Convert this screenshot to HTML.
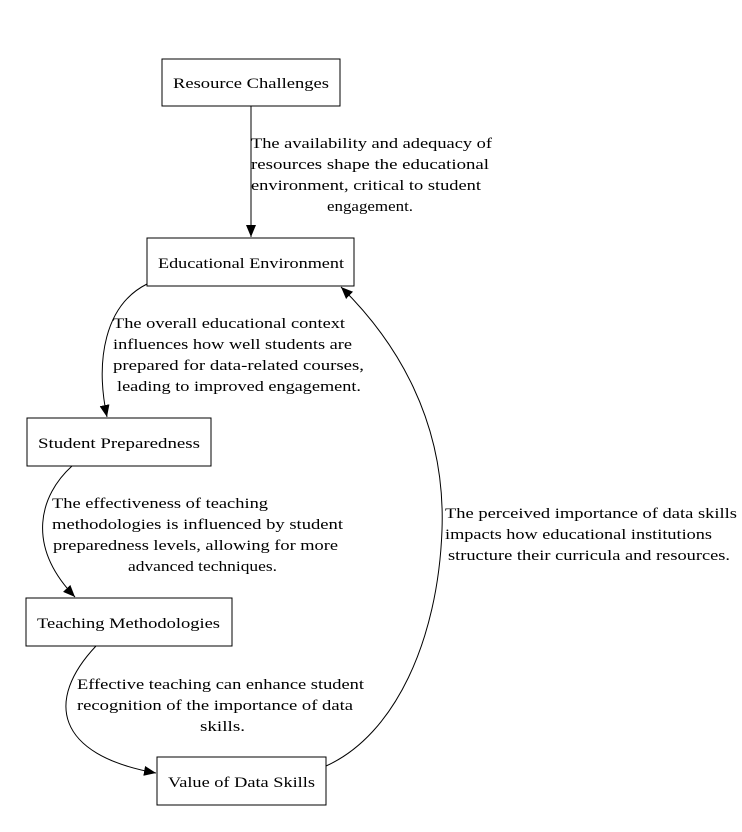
<!DOCTYPE html>
<html><head><meta charset="utf-8"><style>html,body{margin:0;padding:0;background:#fff}svg{display:block}text{font-family:"Liberation Serif",serif;font-size:15px;fill:#000}</style></head>
<body>
<svg width="742" height="832" viewBox="0 0 742 832" xmlns="http://www.w3.org/2000/svg">
<defs><marker id="a" markerWidth="12" markerHeight="10" refX="12" refY="5" orient="auto" markerUnits="userSpaceOnUse"><path d="M0,0 L12,5 L0,10 Z" fill="#000"/></marker></defs>
<g fill="none" stroke="#000" stroke-width="1">
<rect x="162" y="59" width="178" height="47"/>
<rect x="147" y="238" width="207" height="48"/>
<rect x="27" y="418" width="184" height="48"/>
<rect x="26" y="598" width="206" height="48"/>
<rect x="157" y="757" width="169" height="48"/>
<path d="M251,106 L251,237" marker-end="url(#a)"/>
<path d="M147,284 C105,305 95,360 107,417" marker-end="url(#a)"/>
<path d="M72,466 C40,495 25,545 75,597" marker-end="url(#a)"/>
<path d="M96,646 C45,700 55,755 156,773" marker-end="url(#a)"/>
<path d="M326,766 C395,735 438,640 442,530 C446,420 395,340 341,287" marker-end="url(#a)"/>
</g>
<g>
<text x="173" y="88" textLength="156" lengthAdjust="spacingAndGlyphs">Resource Challenges</text>
<text x="158" y="268" textLength="186" lengthAdjust="spacingAndGlyphs">Educational Environment</text>
<text x="38" y="448" textLength="162" lengthAdjust="spacingAndGlyphs">Student Preparedness</text>
<text x="37" y="628" textLength="183" lengthAdjust="spacingAndGlyphs">Teaching Methodologies</text>
<text x="168" y="787" textLength="147" lengthAdjust="spacingAndGlyphs">Value of Data Skills</text>
<text x="251" y="148" textLength="241" lengthAdjust="spacingAndGlyphs">The availability and adequacy of</text>
<text x="251" y="169" textLength="238" lengthAdjust="spacingAndGlyphs">resources shape the educational</text>
<text x="251" y="190" textLength="230" lengthAdjust="spacingAndGlyphs">environment, critical to student</text>
<text x="327" y="211" textLength="86" lengthAdjust="spacingAndGlyphs">engagement.</text>
<text x="113" y="328" textLength="232" lengthAdjust="spacingAndGlyphs">The overall educational context</text>
<text x="113" y="349" textLength="239" lengthAdjust="spacingAndGlyphs">influences how well students are</text>
<text x="113" y="370" textLength="251" lengthAdjust="spacingAndGlyphs">prepared for data-related courses,</text>
<text x="117" y="391" textLength="244" lengthAdjust="spacingAndGlyphs">leading to improved engagement.</text>
<text x="52" y="508" textLength="216" lengthAdjust="spacingAndGlyphs">The effectiveness of teaching</text>
<text x="52" y="529" textLength="291" lengthAdjust="spacingAndGlyphs">methodologies is influenced by student</text>
<text x="53" y="550" textLength="285" lengthAdjust="spacingAndGlyphs">preparedness levels, allowing for more</text>
<text x="128" y="571" textLength="149" lengthAdjust="spacingAndGlyphs">advanced techniques.</text>
<text x="445" y="518" textLength="292" lengthAdjust="spacingAndGlyphs">The perceived importance of data skills</text>
<text x="445" y="539" textLength="267" lengthAdjust="spacingAndGlyphs">impacts how educational institutions</text>
<text x="448" y="560" textLength="282" lengthAdjust="spacingAndGlyphs">structure their curricula and resources.</text>
<text x="77" y="689" textLength="287" lengthAdjust="spacingAndGlyphs">Effective teaching can enhance student</text>
<text x="77" y="710" textLength="276" lengthAdjust="spacingAndGlyphs">recognition of the importance of data</text>
<text x="200" y="731" textLength="45" lengthAdjust="spacingAndGlyphs">skills.</text>
</g>
</svg>
</body></html>
